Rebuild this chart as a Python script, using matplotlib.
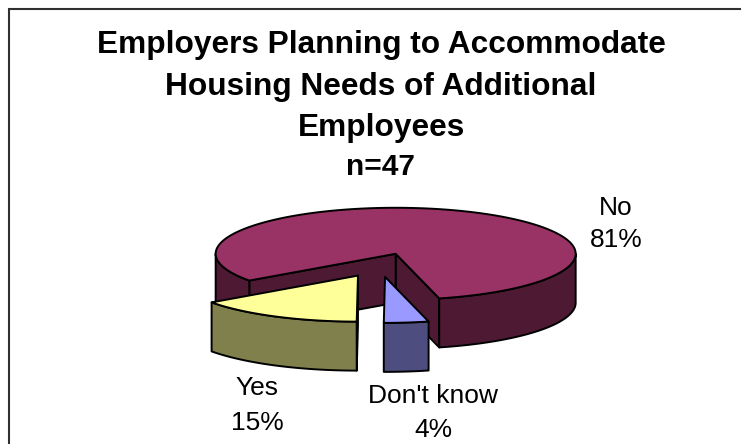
import numpy as np
import matplotlib.pyplot as plt
from matplotlib.patches import Polygon

# survey answers (percent of employers)
labels = ['No', 'Yes', "Don't know"]
shares = [81, 15, 4]
top_colors = ['#993366', '#FFFF99', '#9999FF']
side_colors = ['#4D1933', '#80804D', '#4D4D80']

title_lines = ['Employers Planning to Accommodate',
               'Housing Needs of Additional',
               'Employees']
subtitle = 'n=47'

# pie geometry in pixel units
cx, cy = 379.5, 265.0
rx, ry = 180.0, 46.0
depth = 49.0
explode = 0.26
start_angle = -76.0

# label anchors (name baseline, percent baseline)
label_pos = [(616, 215, 247), (257, 395, 430), (433, 403, 437)]

plt.rcParams['font.family'] = ['Liberation Sans', 'DejaVu Sans']

fig = plt.figure(figsize=(7.41, 4.44), dpi=100)
ax = fig.add_axes([0, 0, 1, 1])
ax.set_xlim(0, 741)
ax.set_ylim(444, 0)
ax.axis('off')

edge = dict(edgecolor='black', linewidth=1.4, joinstyle='round')


def rim(vx, vy, t, dz=0.0):
    return vx + rx * np.cos(t), vy - ry * np.sin(t) + dz


slices = []
a0 = start_angle
for i, s in enumerate(shares):
    a1 = a0 + 3.6 * s
    mid = np.radians((a0 + a1) / 2)
    vx = cx + explode * rx * np.cos(mid)
    vy = cy - explode * ry * np.sin(mid)
    slices.append((vy, i, np.radians(a0), np.radians(a1), vx))
    a0 = a1

z = 1
for vy, i, t1, t2, vx in sorted(slices):
    side = side_colors[i]
    # cut faces along the two radii
    for t, show in ((t1, np.cos(t1) > 0), (t2, np.cos(t2) < 0)):
        if show:
            ex, ey = rim(vx, vy, t)
            quad = [(vx, vy), (ex, ey), (ex, ey + depth), (vx, vy + depth)]
            ax.add_patch(Polygon(quad, closed=True, facecolor=side, zorder=z, **edge))
            z += 1
    # outer wall where it faces the viewer
    ts = np.linspace(t1, t2, 600)
    front = np.sin(ts) < 0
    runs = []
    cur = []
    for t, f in zip(ts, front):
        if f:
            cur.append(t)
        elif cur:
            runs.append(cur)
            cur = []
    if cur:
        runs.append(cur)
    for run in runs:
        run = np.array(run)
        xs, ys = rim(vx, vy, run)
        pts = list(zip(xs, ys)) + list(zip(xs[::-1], ys[::-1] + depth))
        ax.add_patch(Polygon(pts, closed=True, facecolor=side, zorder=z, **edge))
        z += 1
    # top face
    xs, ys = rim(vx, vy, ts)
    pts = [(vx, vy)] + list(zip(xs, ys))
    ax.add_patch(Polygon(pts, closed=True, facecolor=top_colors[i], zorder=z, **edge))
    z += 1

for (lx, ny, py), name, s in zip(label_pos, labels, shares):
    ax.text(lx, ny, name, ha='center', va='baseline', fontsize=19, zorder=z)
    ax.text(lx, py, f'{s}%', ha='center', va='baseline', fontsize=19, zorder=z)

for line, by in zip(title_lines, [53, 94.5, 135.7]):
    ax.text(381, by, line, ha='center', va='baseline', fontsize=22.8,
            fontweight='bold')
ax.text(380, 175, subtitle, ha='center', va='baseline', fontsize=21.5,
        fontweight='bold')

# chart area border
ax.plot([8.5, 8.5, 745], [450, 9.5, 9.5], color='#303030', lw=1.5,
        clip_on=False, solid_joinstyle='miter')

fig.savefig('out.png', dpi=100)
